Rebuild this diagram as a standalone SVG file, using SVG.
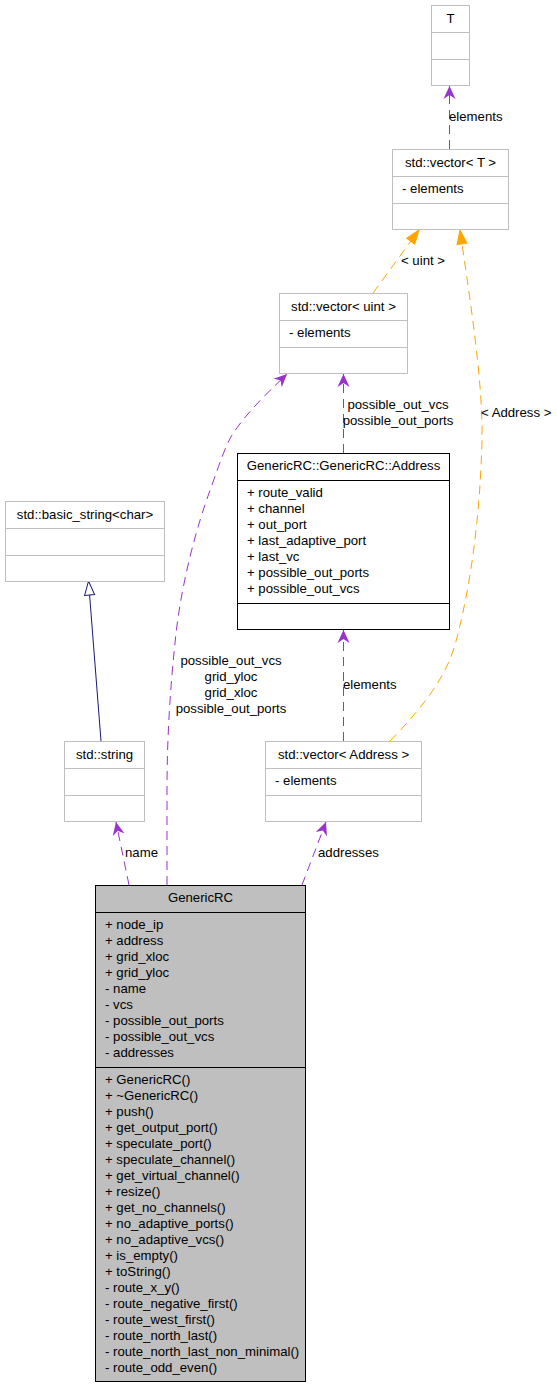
<svg xmlns="http://www.w3.org/2000/svg" width="557" height="1387" viewBox="0 0 557 1387">
<style>
text{font-family:"Liberation Sans",Arial,sans-serif;font-size:13.2px;fill:#000}
.c{text-anchor:middle}
.ext{fill:#fff;stroke:#bfbfbf;stroke-width:1}
.extl{stroke:#bfbfbf;stroke-width:1}
.blk{fill:#fff;stroke:#000;stroke-width:1}
.main{fill:#bfbfbf;stroke:#000;stroke-width:1}
.blkl{stroke:#000;stroke-width:1}
.use{fill:none;stroke:#9a32cd;stroke-width:1;stroke-dasharray:9,6;marker-end:url(#vee)}
.tpl{fill:none;stroke:#ffa500;stroke-width:1;stroke-dasharray:9,6;marker-end:url(#tri)}
.inh{fill:none;stroke:#191970;stroke-width:1;marker-end:url(#hol)}
</style>
<defs>
<marker id="vee" markerUnits="userSpaceOnUse" orient="auto" overflow="visible" markerWidth="1" markerHeight="1" refX="0" refY="0"><path d="M0,0 L-13,-6 L-9,0 L-13,6 Z" fill="#9a32cd"/></marker>
<marker id="tri" markerUnits="userSpaceOnUse" orient="auto" overflow="visible" markerWidth="1" markerHeight="1" refX="0" refY="0"><path d="M0,0 L-14,-5 L-14,5 Z" fill="#ffa500" stroke="#ffa500"/></marker>
<marker id="hol" markerUnits="userSpaceOnUse" orient="auto" overflow="visible" markerWidth="1" markerHeight="1" refX="0" refY="0"><path d="M14,0 L0,-5 L0,5 Z" fill="#fff" stroke="#191970"/></marker>
</defs>

<g id="connectors">
<path class="use" d="M449.5,149 L449.5,86"/>
<path class="tpl" d="M373,293 L419,230"/>
<path class="tpl" d="M390,741 C420,710 445,680 455,645 C470,590 480,520 482,440 C483,380 470,300 460,230"/>
<path class="use" d="M343.5,453 L343.5,374"/>
<path class="use" d="M343.5,741 L343.5,630"/>
<path class="inh" d="M101,741 L89.6,595"/>
<path class="use" d="M129,885 L116,822"/>
<path class="use" d="M302,885 L326,822"/>
<path class="use" d="M167,885 L167,790 C167,740 170,690 175,643 C180,590 195,530 212,485 C220,462 226,445 232,435 C245,415 262,398 287,374"/>
<text x="449" y="121">elements</text>
<text x="401" y="265">&lt; uint &gt;</text>
<text x="481" y="417">&lt; Address &gt;</text>
<text class="c" x="398" y="409">possible_out_vcs</text>
<text class="c" x="398" y="425">possible_out_ports</text>
<text x="343" y="689">elements</text>
<text class="c" x="231" y="665">possible_out_vcs</text>
<text class="c" x="231" y="681">grid_yloc</text>
<text class="c" x="231" y="697">grid_xloc</text>
<text class="c" x="231" y="713">possible_out_ports</text>
<text x="125" y="857">name</text>
<text x="318" y="857">addresses</text>
</g>

<g id="T">
<rect class="ext" x="431.5" y="5.5" width="38" height="80"/>
<line class="extl" x1="431.5" y1="32.5" x2="469.5" y2="32.5"/>
<line class="extl" x1="431.5" y1="59.5" x2="469.5" y2="59.5"/>
<text class="c" x="450.5" y="23">T</text>
</g>

<g id="vector_T">
<rect class="ext" x="392.5" y="149.5" width="116" height="80"/>
<line class="extl" x1="392.5" y1="176.5" x2="508.5" y2="176.5"/>
<line class="extl" x1="392.5" y1="203.5" x2="508.5" y2="203.5"/>
<text class="c" x="450.5" y="167">std::vector&lt; T &gt;</text>
<text x="402" y="193">- elements</text>
</g>

<g id="vector_uint">
<rect class="ext" x="279.5" y="293.5" width="128" height="80"/>
<line class="extl" x1="279.5" y1="320.5" x2="407.5" y2="320.5"/>
<line class="extl" x1="279.5" y1="347.5" x2="407.5" y2="347.5"/>
<text class="c" x="343.5" y="311">std::vector&lt; uint &gt;</text>
<text x="289" y="337">- elements</text>
</g>

<g id="Address">
<rect class="blk" x="237.5" y="453.5" width="212" height="176"/>
<line class="blkl" x1="237.5" y1="480.5" x2="449.5" y2="480.5"/>
<line class="blkl" x1="237.5" y1="603.5" x2="449.5" y2="603.5"/>
<text class="c" x="343.5" y="470">GenericRC::GenericRC::Address</text>
<text x="247" y="497">+ route_valid</text>
<text x="247" y="513">+ channel</text>
<text x="247" y="529">+ out_port</text>
<text x="247" y="545">+ last_adaptive_port</text>
<text x="247" y="561">+ last_vc</text>
<text x="247" y="577">+ possible_out_ports</text>
<text x="247" y="593">+ possible_out_vcs</text>
</g>

<g id="basic_string">
<rect class="ext" x="5.5" y="501.5" width="159" height="80"/>
<line class="extl" x1="5.5" y1="528.5" x2="164.5" y2="528.5"/>
<line class="extl" x1="5.5" y1="555.5" x2="164.5" y2="555.5"/>
<text class="c" x="85" y="519">std::basic_string&lt;char&gt;</text>
</g>

<g id="string">
<rect class="ext" x="64.5" y="741.5" width="80" height="80"/>
<line class="extl" x1="64.5" y1="768.5" x2="144.5" y2="768.5"/>
<line class="extl" x1="64.5" y1="795.5" x2="144.5" y2="795.5"/>
<text class="c" x="104.5" y="759">std::string</text>
</g>

<g id="vector_Address">
<rect class="ext" x="265.5" y="741.5" width="156" height="80"/>
<line class="extl" x1="265.5" y1="768.5" x2="421.5" y2="768.5"/>
<line class="extl" x1="265.5" y1="795.5" x2="421.5" y2="795.5"/>
<text class="c" x="343.5" y="759">std::vector&lt; Address &gt;</text>
<text x="275" y="785">- elements</text>
</g>

<g id="GenericRC">
<rect class="main" x="95.5" y="885.5" width="210" height="496"/>
<line class="blkl" x1="95.5" y1="912.5" x2="305.5" y2="912.5"/>
<line class="blkl" x1="95.5" y1="1067.5" x2="305.5" y2="1067.5"/>
<text class="c" x="200.5" y="902">GenericRC</text>
<text x="105" y="929">+ node_ip</text>
<text x="105" y="945">+ address</text>
<text x="105" y="961">+ grid_xloc</text>
<text x="105" y="977">+ grid_yloc</text>
<text x="105" y="993">- name</text>
<text x="105" y="1009">- vcs</text>
<text x="105" y="1025">- possible_out_ports</text>
<text x="105" y="1041">- possible_out_vcs</text>
<text x="105" y="1057">- addresses</text>
<text x="105" y="1084">+ GenericRC()</text>
<text x="105" y="1100">+ ~GenericRC()</text>
<text x="105" y="1116">+ push()</text>
<text x="105" y="1132">+ get_output_port()</text>
<text x="105" y="1148">+ speculate_port()</text>
<text x="105" y="1164">+ speculate_channel()</text>
<text x="105" y="1180">+ get_virtual_channel()</text>
<text x="105" y="1196">+ resize()</text>
<text x="105" y="1212">+ get_no_channels()</text>
<text x="105" y="1228">+ no_adaptive_ports()</text>
<text x="105" y="1244">+ no_adaptive_vcs()</text>
<text x="105" y="1260">+ is_empty()</text>
<text x="105" y="1276">+ toString()</text>
<text x="105" y="1292">- route_x_y()</text>
<text x="105" y="1308">- route_negative_first()</text>
<text x="105" y="1324">- route_west_first()</text>
<text x="105" y="1340">- route_north_last()</text>
<text x="105" y="1356">- route_north_last_non_minimal()</text>
<text x="105" y="1372">- route_odd_even()</text>
</g>
</svg>
